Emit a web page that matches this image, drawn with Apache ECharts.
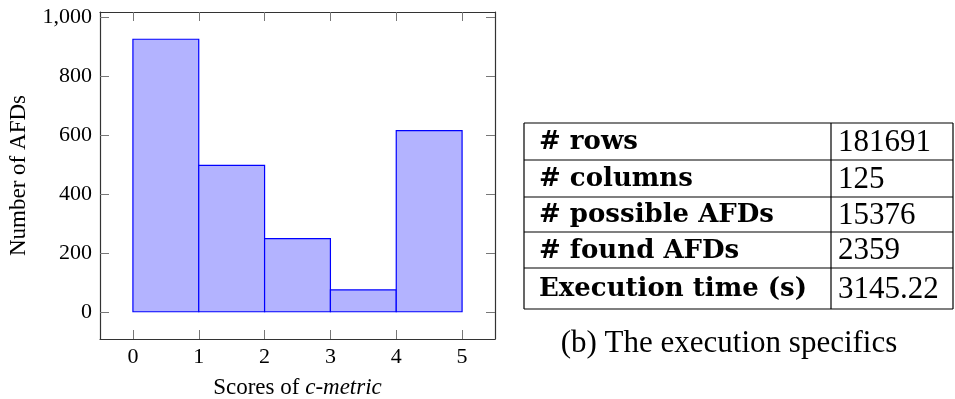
<!DOCTYPE html>
<html><head><meta charset="utf-8">
<script src="https://cdn.jsdelivr.net/npm/echarts@6/dist/echarts.min.js"></script>
<style>html,body{margin:0;padding:0;background:#fff}#c{width:955px;height:399px}</style>
</head><body><div id="c"></div>
<script>
// Histogram data: bin edges and counts
const binStarts = [0, 1, 2, 3, 4];
const binWidth = 1;
const counts = [925, 497, 248, 74, 615];
const xTicks = [0, 1, 2, 3, 4, 5];
const yTicks = [0, 200, 400, 600, 800, 1000];
// Table data
const tableLabels = ['# rows', '# columns', '# possible AFDs', '# found AFDs', 'Execution time (s)'];
const tableValues = ['181691', '125', '15376', '2359', '3145.22'];
const caption = '(b) The execution specifics';

const FONT = 'Liberation Serif, DejaVu Serif, serif';
const chart = echarts.init(document.getElementById('c'), null, {renderer: 'canvas'});

const gridL = 100, gridT = 12, gridR = 495, gridB = 339;
const tickLen = 9;

const data = binStarts.map((s, i) => [s, s + binWidth, counts[i]]);

// Table geometry
const colX = [524, 831, 953];
const rowY = [123, 160, 197, 232, 268, 309];
const graphics = [];
for (let i = 0; i < rowY.length; i++) {
  graphics.push({type: 'line', shape: {x1: colX[0], y1: rowY[i], x2: colX[2], y2: rowY[i]}, style: {stroke: '#000', lineWidth: 1.2}});
}
for (let j = 0; j < colX.length; j++) {
  graphics.push({type: 'line', shape: {x1: colX[j], y1: rowY[0], x2: colX[j], y2: rowY[rowY.length - 1]}, style: {stroke: '#000', lineWidth: 1.2}});
}
for (let i = 0; i < tableLabels.length; i++) {
  const cy = (rowY[i] + rowY[i + 1]) / 2 + 1;
  graphics.push({type: 'text', x: 539, y: cy, style: {text: tableLabels[i], font: 'bold 26px "DejaVu Serif", serif', fill: '#000', textAlign: 'left', textVerticalAlign: 'middle'}});
  graphics.push({type: 'text', x: 838, y: cy, style: {text: tableValues[i], font: '31px "Liberation Serif", serif', fill: '#000', textAlign: 'left', textVerticalAlign: 'middle'}});
}
graphics.push({type: 'text', x: 729, y: 344, style: {text: caption, font: '31px "Liberation Serif", serif', fill: '#000', textAlign: 'center', textVerticalAlign: 'middle'}});

const axisLineStyle = {color: '#333', width: 1.2};
const tickStyle = {color: '#777', width: 1};

chart.setOption({
  animation: false,
  grid: {left: gridL, top: gridT, width: gridR - gridL, height: gridB - gridT, show: false, containLabel: false, outerBoundsMode: 'none'},
  xAxis: [{
    type: 'value', min: -0.5, max: 5.5, position: 'bottom',
    axisLine: {show: true, onZero: false, lineStyle: axisLineStyle},
    axisTick: {show: true, inside: true, length: tickLen, customValues: xTicks, lineStyle: tickStyle},
    axisLabel: {show: true, customValues: xTicks, fontFamily: FONT, fontSize: 22, color: '#000', margin: 7},
    splitLine: {show: false},
    name: 'Scores of {i|c-metric}', nameLocation: 'middle', nameGap: 37,
    nameTextStyle: {fontFamily: FONT, fontSize: 23, color: '#000', rich: {i: {fontFamily: FONT, fontSize: 23, fontStyle: 'italic', color: '#000'}}}
  }, {
    type: 'value', min: -0.5, max: 5.5, position: 'top',
    axisLine: {show: true, onZero: false, lineStyle: axisLineStyle},
    axisTick: {show: true, inside: true, length: tickLen, customValues: xTicks, lineStyle: tickStyle},
    axisLabel: {show: false}, splitLine: {show: false}
  }],
  yAxis: [{
    type: 'value', min: -92.5, max: 1017.5, position: 'left',
    axisLine: {show: true, onZero: false, lineStyle: axisLineStyle},
    axisTick: {show: true, inside: true, length: tickLen, customValues: yTicks, lineStyle: tickStyle},
    axisLabel: {show: true, customValues: yTicks, fontFamily: FONT, fontSize: 22, color: '#000', margin: 8,
      formatter: v => v >= 1000 ? Math.floor(v / 1000) + ',' + String(v % 1000).padStart(3, '0') : String(v)},
    splitLine: {show: false},
    name: 'Number of AFDs', nameLocation: 'middle', nameGap: 70,
    nameTextStyle: {fontFamily: FONT, fontSize: 23, color: '#000'}
  }, {
    type: 'value', min: -92.5, max: 1017.5, position: 'right',
    axisLine: {show: true, onZero: false, lineStyle: axisLineStyle},
    axisTick: {show: true, inside: true, length: tickLen, customValues: yTicks, lineStyle: tickStyle},
    axisLabel: {show: false}, splitLine: {show: false}
  }],
  series: [{
    type: 'custom',
    xAxisIndex: 0, yAxisIndex: 0,
    data: data,
    encode: {x: [0, 1], y: 2},
    renderItem: function (params, api) {
      const p0 = api.coord([api.value(0), 0]);
      const p1 = api.coord([api.value(1), api.value(2)]);
      return {
        type: 'rect',
        shape: {x: p0[0], y: p1[1], width: p1[0] - p0[0], height: p0[1] - p1[1]},
        style: {fill: '#b3b3ff', stroke: '#0000ff', lineWidth: 1.2}
      };
    }
  }],
  graphic: graphics
});
</script></body></html>
